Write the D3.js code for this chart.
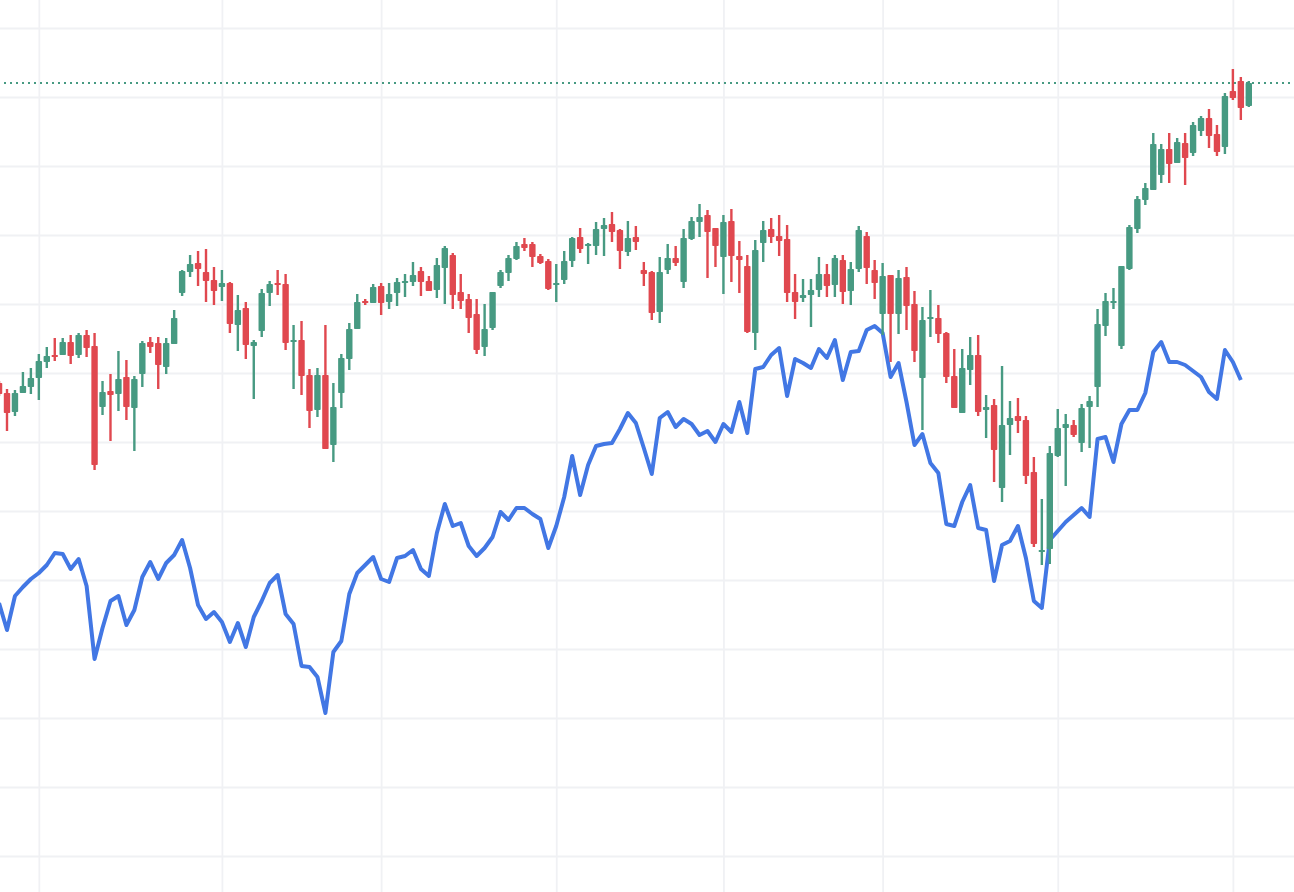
<html>
<head>
<title>Candles</title>
<script src="https://d3js.org/d3.v7.min.js"></script>
<style>
html, body { margin: 0; padding: 0; background: #fff; overflow: hidden; }
svg { display: block; }
</style>
</head>
<body>

<div id="chart"></div>

<script>

var width = 1294;
var height = 892;

var openVals = [
  617,607,588,607,613,622,638,645,645,658,
  645,665,654,593,609,606,623,592,626,658,
  657,633,656,707,728,737,728,720,713,717,
  675,692,654,669,707,717,716,658,660,625,
  590,625,555,607,641,671,699,697,714,698,
  707,717,718,729,719,710,732,745,708,701,
  686,653,672,714,727,741,756,756,744,739,
  715,720,739,763,754,754,771,776,770,748,
  763,730,728,688,730,742,718,761,778,785,
  772,743,779,744,734,667,757,771,764,761,
  708,702,705,710,726,715,740,709,731,764,
  730,686,725,686,723,696,622,681,682,667,
  624,587,630,645,590,595,512,575,584,580,
  528,448,451,544,572,575,557,593,613,674,
  697,654,731,771,800,810,825,851,837,857,
  847,869,882,866,853,909,919,894
];

var highVals = [
  619,611,610,628,632,646,653,662,662,665,
  667,670,667,619,626,649,640,624,659,663,
  663,662,690,730,745,749,751,733,730,718,
  705,698,660,711,719,730,726,675,679,631,
  632,675,617,646,677,706,701,716,717,717,
  722,726,738,733,724,742,754,747,726,706,
  701,696,708,730,745,758,762,758,746,741,
  736,749,763,772,757,778,782,788,771,779,
  774,738,729,743,756,754,771,783,796,790,
  772,785,791,759,745,760,779,782,785,775,
  726,721,721,743,736,745,745,738,774,768,
  740,737,725,730,733,709,693,710,695,668,
  651,651,663,665,605,601,634,599,602,584,
  543,501,554,591,586,580,596,604,691,707,
  712,734,775,804,817,867,856,867,862,867,
  878,884,891,875,907,931,923,919
];

var lowVals = [
  604,569,584,607,606,600,632,639,645,636,
  642,643,530,585,559,589,580,549,613,647,
  611,626,656,704,723,714,698,695,699,667,
  649,641,601,663,694,705,650,611,605,572,
  583,551,538,592,630,671,695,697,685,691,
  694,703,714,704,709,702,696,691,691,667,
  646,644,670,712,719,740,749,733,736,710,
  698,716,733,747,736,745,744,758,731,744,
  750,714,680,677,726,734,712,760,763,722,
  733,706,718,707,667,650,738,757,744,698,
  681,698,673,703,703,703,696,695,728,716,
  701,665,638,666,670,638,570,663,657,617,
  592,587,615,584,562,518,498,545,567,516,
  453,435,436,543,514,563,548,552,593,664,
  691,651,730,767,795,810,817,817,837,815,
  844,864,852,844,846,900,880,893
];

var closeVals = [
  606,587,607,614,622,639,644,643,658,644,
  665,652,535,608,605,621,593,621,657,653,
  635,657,682,729,736,731,719,709,717,676,
  690,655,658,707,716,715,657,660,624,589,
  625,551,593,642,671,698,697,713,697,706,
  718,719,725,718,709,735,752,705,699,682,
  650,671,708,728,742,754,752,743,737,711,
  717,739,762,751,756,771,775,768,749,762,
  758,726,687,728,742,737,762,779,783,768,
  754,778,744,740,668,750,770,763,759,707,
  698,705,710,726,714,742,708,731,770,732,
  717,724,686,722,694,649,680,683,666,623,
  592,632,645,588,593,550,575,582,579,524,
  456,450,547,572,576,565,592,599,676,699,
  699,734,773,801,812,856,851,836,858,842,
  875,882,864,848,904,902,892,917
];

// second series, one value per candle, stops one candle short of the last
var lineVals = [
  397,370,404,413,421,427,435,447,446,431,
  441,414,341,372,399,404,375,390,423,438,
  421,437,445,460,432,395,381,388,378,358,
  377,353,383,399,417,425,386,376,334,333,
  323,287,348,359,406,427,435,443,421,418,
  442,444,450,431,424,467,496,474,477,454,
  444,452,463,488,480,492,492,486,481,452,
  474,503,544,505,535,554,556,557,571,587,
  577,552,526,582,588,573,581,576,565,569,
  558,576,568,598,567,631,633,645,652,604,
  641,637,632,651,642,660,620,648,649,670,
  674,667,623,637,598,555,566,537,527,476,
  474,498,515,472,470,419,455,459,474,442,
  399,392,460,469,478,485,492,483,561,563,
  538,576,590,590,607,648,658,638,638,635,
  629,623,608,601,650,638,620
];

var priceTicks = [972,903,834,765,696,627,558,489,420,351,282,213,144];
var timeTicks = [5,28,48,70,91,111,133,155];

var upColor = "#479a82";
var downColor = "#e0484f";
var lineColor = "#4277e4";
var gridColor = "#f0f1f4";
var bodyWidth = 6.4;
var wickWidth = 2.4;

var x = d3.scaleLinear().domain([0, 157]).range([-0.96, 1248.8]);
var y = d3.scaleLinear().domain([108, 1000]).range([892, 0]);

var svg = d3.select("#chart")
  .append("svg")
  .attr("width", width)
  .attr("height", height);

//Grid comes from the axes, no labels on this chart
var yGrid = svg.append("g")
  .call(d3.axisLeft(y).tickValues(priceTicks).tickSize(-width).tickFormat(""));

var xGrid = svg.append("g")
  .attr("transform", "translate(0,"+height+")")
  .call(d3.axisBottom(x).tickValues(timeTicks).tickSize(-height).tickFormat(""));

svg.selectAll(".domain").remove();
svg.selectAll(".tick line")
  .style("stroke", gridColor)
  .style("stroke-width", 1.8);

//Last price line
svg.append("line")
  .attr("x1", 4)
  .attr("x2", width)
  .attr("y1", y(closeVals[closeVals.length-1]))
  .attr("y2", y(closeVals[closeVals.length-1]))
  .style("stroke", upColor)
  .style("stroke-width", 2)
  .style("stroke-dasharray", "2 4");

var line = d3.line()
  .x((d, i) => x(i))
  .y(d => y(d));

svg.append("path")
  .datum(lineVals)
  .attr("d", line)
  .style("fill", "none")
  .style("stroke", lineColor)
  .style("stroke-width", 4)
  .style("stroke-linejoin", "round");

var candleColor = i => closeVals[i] >= openVals[i] ? upColor : downColor;

var candles = svg.selectAll(".candle")
  .data(d3.range(openVals.length))
  .enter()
    .append("g")
    .attr("class", "candle");

candles.append("rect")
  .attr("x", i => x(i)-wickWidth/2)
  .attr("y", i => y(highVals[i]))
  .attr("width", wickWidth)
  .attr("height", i => y(lowVals[i])-y(highVals[i]))
  .style("fill", candleColor);

candles.append("rect")
  .attr("x", i => x(i)-bodyWidth/2)
  .attr("y", i => y(Math.max(openVals[i], closeVals[i])))
  .attr("width", bodyWidth)
  .attr("height", i => Math.abs(y(openVals[i])-y(closeVals[i])))
  .attr("rx", 0.8)
  .style("fill", candleColor);

</script>

</body>
</html>
